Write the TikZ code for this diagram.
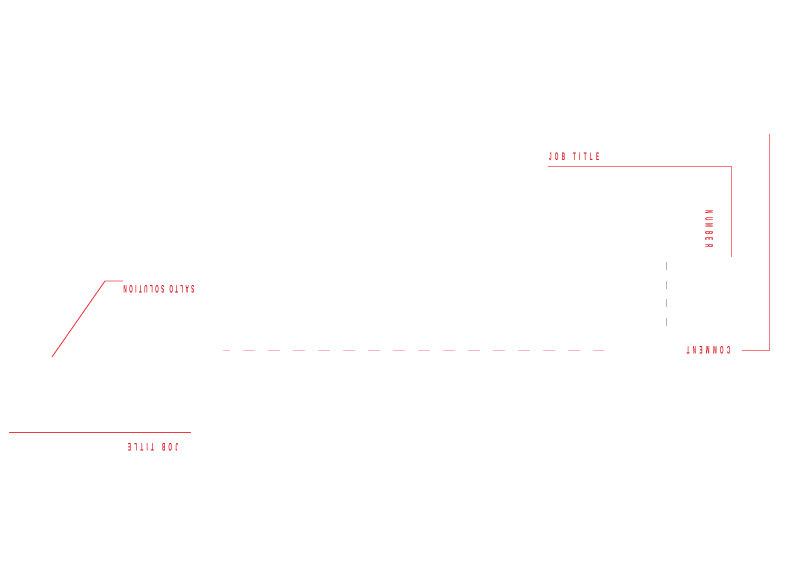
\documentclass[tikz,border=0pt]{standalone}
\usepackage{fontspec}
\newfontfamily\condfont[FakeStretch=0.42,LetterSpace=30,BoldFont={Liberation Sans Bold},UprightFont={Liberation Sans Bold}]{Liberation Sans}
\newcommand{\gap}[1]{\hspace{#1}}
\definecolor{txtred}{RGB}{222,32,44}
\definecolor{linered}{RGB}{238,58,68}
\definecolor{linepink}{RGB}{242,120,132}
\definecolor{dashpink}{RGB}{255,182,192}
\definecolor{dashgray}{RGB}{180,180,180}
\begin{document}
\begin{tikzpicture}[x=1pt,y=-1pt,
  lbl/.style={inner sep=0pt,outer sep=0pt,text=txtred,font=\condfont\fontsize{11}{11}\selectfont},
  pinkline/.style={draw=linepink,line width=1pt},
  redline/.style={draw=linered,line width=0.9pt},
  pinkdash/.style={draw=dashpink,line width=1pt,dash pattern=on 12.5pt off 12.5pt},
  graydash/.style={draw=dashgray,line width=1pt,dash pattern=on 8pt off 10.5pt}]
\useasboundingbox (0,0) rectangle (797,566);
% texts
\node[lbl,anchor=west] (jobtop) at (549,157) {JOB\gap{8pt}TITLE};
\node[lbl,rotate=-90] (number) at (709,229) {NUMBER};
\node[lbl,rotate=180] (comment) at (708.5,350.5) {COMMENT};
\node[lbl,rotate=180] (salto) at (159,289.5) {\addfontfeature{LetterSpace=22}SALTO\gap{5pt}SOLUTION};
\node[lbl,rotate=180] (jobbot) at (153,447) {JOB\gap{8pt}TITLE};
% coordinates
\coordinate (t1) at (548,166);
\coordinate (t2) at (731,166);
\coordinate (t3) at (731,257);
\coordinate (r1) at (769,134);
\coordinate (r2) at (769,350);
\coordinate (r3) at (742,350);
\coordinate (g1) at (666,262);
\coordinate (g2) at (666,326);
\coordinate (h1) at (223,350);
\coordinate (h2) at (604,350);
\coordinate (d1) at (52,357);
\coordinate (d2) at (105,281);
\coordinate (d3) at (123,281);
\coordinate (b1) at (9,432);
\coordinate (b2) at (191,432);
% lines
\draw[pinkline] (t1) -- (t2) -- (t3);
\draw[pinkline] (r1) -- (r2) -- (r3);
\draw[graydash] (g1) -- (g2);
\draw[pinkdash,dash phase=5.5pt] (h1) -- (h2);
\draw[redline] (d1) -- (d2) -- (d3);
\draw[redline] (b1) -- (b2);
\end{tikzpicture}
\end{document}
